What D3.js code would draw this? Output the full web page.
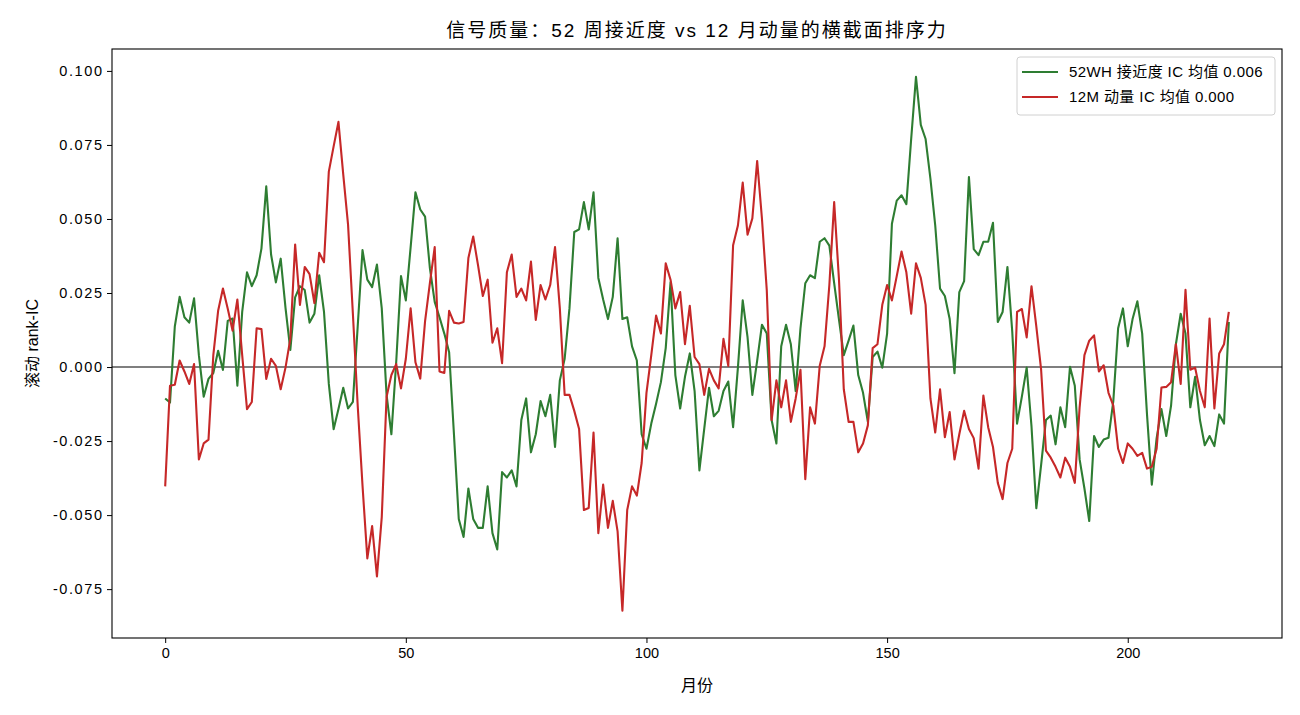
<!DOCTYPE html>
<html>
<head>
<meta charset="utf-8">
<script src="https://cdn.jsdelivr.net/npm/d3@7"></script>
<style>
  body { margin: 0; background: #fff; }
  svg text { font-family: "Liberation Sans", Arial, "Noto Sans CJK SC", sans-serif; fill: #000; }
</style>
</head>
<body>
<div id="canvas"></div>
<script>
const w = 1300;
const h = 715;
const margin = { top: 49, bottom: 77, left: 112, right: 18 };

// rolling rank-IC, one value per month (0..221)
const ic52wh = [
  -0.0106, -0.012, 0.0137, 0.0237, 0.0168, 0.015, 0.0232, 0.004, -0.010, -0.004,
  -0.002, 0.0055, -0.001, 0.0156, 0.0164, -0.0063, 0.0186, 0.032, 0.0273, 0.031,
  0.040, 0.061, 0.038, 0.0286, 0.0366, 0.02, 0.0058, 0.0235, 0.0273, 0.026,
  0.015, 0.018, 0.031, 0.0186, -0.0057, -0.021, -0.0142, -0.007, -0.014, -0.0118,
  0.0137, 0.0395, 0.0295, 0.027, 0.0346, 0.0198, -0.0094, -0.0227, 0.0016, 0.0307,
  0.0225, 0.0405, 0.059, 0.0532, 0.0508, 0.0334, 0.022, 0.0168, 0.0113, 0.005,
  -0.0227, -0.0513, -0.0574, -0.041, -0.0513, -0.0543, -0.0543, -0.0403, -0.0561, -0.0616,
  -0.0355, -0.0373, -0.0349, -0.0403, -0.0179, -0.0106, -0.0288, -0.0227, -0.0115, -0.0166,
  -0.0094, -0.027, -0.0045, 0.0028, 0.0198, 0.0456, 0.0465, 0.0557, 0.0465, 0.059,
  0.0301, 0.0228, 0.0162, 0.0237, 0.0435, 0.0162, 0.0168, 0.007, 0.0022, -0.0227,
  -0.0276, -0.0191, -0.0124, -0.0051, 0.0064, 0.0286, -0.0027, -0.014, -0.0033, 0.0046,
  -0.0081, -0.0349, -0.0209, -0.007, -0.0166, -0.0148, -0.0081, -0.0049, -0.0203, -0.0002,
  0.0225, 0.0101, -0.0094, 0.0022, 0.0143, 0.0113, -0.0179, -0.0258, 0.007, 0.0143,
  0.0077, -0.0081, 0.0131, 0.0283, 0.031, 0.030, 0.0423, 0.0435, 0.041, 0.0283,
  0.016, 0.004, 0.0089, 0.014, -0.0027, -0.0087, -0.0185, 0.0034, 0.0052, -0.0002,
  0.0113, 0.0484, 0.0562, 0.058, 0.055, 0.077, 0.098, 0.0818, 0.077, 0.0636,
  0.0478, 0.0265, 0.024, 0.0162, -0.0021, 0.0253, 0.029, 0.0642, 0.0398, 0.0378,
  0.0423, 0.0423, 0.0487, 0.0152, 0.0186, 0.0338, 0.012, -0.0191, -0.01, -0.0002,
  -0.02, -0.0477, -0.033, -0.0179, -0.0164, -0.0261, -0.0136, -0.0203, 0.0001, -0.0063,
  -0.0312, -0.041, -0.052, -0.0233, -0.027, -0.0245, -0.0239, -0.0115, 0.0131, 0.0198,
  0.007, 0.0162, 0.0222, 0.0113, -0.016, -0.0397, -0.024, -0.0142, -0.0233, -0.013,
  0.0077, 0.018, 0.0113, -0.0136, -0.0033, -0.0179, -0.0264, -0.0233, -0.0267, -0.016,
  -0.0191, 0.0152
];

const ic12m = [
  -0.0403, -0.0063, -0.006, 0.0022, -0.0015, -0.0057, 0.001, -0.0312, -0.0258, -0.0245,
  0.004, 0.019, 0.0265, 0.0197, 0.0123, 0.0228, 0.004, -0.0142, -0.0118, 0.0131,
  0.0128, -0.004, 0.0028, 0.0004, -0.0075, -0.0002, 0.0095, 0.0414, 0.021, 0.0338,
  0.0314, 0.0216, 0.0386, 0.0354, 0.066, 0.0745, 0.0828, 0.065, 0.048, 0.018,
  -0.013, -0.040, -0.0646, -0.0537, -0.0707, -0.0507, -0.01, -0.0027, 0.001, -0.0072,
  0.0028, 0.0198, 0.0016, -0.0039, 0.0155, 0.0283, 0.0405, -0.0015, -0.002, 0.019,
  0.015, 0.0147, 0.0152, 0.0368, 0.0441, 0.0344, 0.024, 0.0295, 0.0082, 0.0131,
  0.0013, 0.032, 0.038, 0.0237, 0.0265, 0.0225, 0.0356, 0.0159, 0.0277, 0.0228,
  0.0277, 0.0405, 0.0198, -0.0094, -0.0094, -0.0148, -0.0209, -0.0483, -0.0476, -0.0221,
  -0.0561, -0.0397, -0.0543, -0.0452, -0.0555, -0.0823, -0.0483, -0.0403, -0.0434, -0.0324,
  -0.0087, 0.004, 0.0174, 0.0113, 0.035, 0.0295, 0.0198, 0.0253, 0.0077, 0.0207,
  0.0034, 0.001, -0.0094, -0.0006, -0.0045, -0.0072, 0.0095, 0.0004, 0.0411, 0.0478,
  0.0623, 0.0447, 0.0502, 0.0696, 0.05, 0.0259, -0.0179, -0.0045, -0.0136, -0.0045,
  -0.0185, -0.0106, -0.0009, -0.0379, -0.0136, -0.0191, 0.0004, 0.007, 0.0277, 0.0557,
  0.0295, -0.0075, -0.0185, -0.0185, -0.0288, -0.0258, -0.0197, 0.0064, 0.0077, 0.021,
  0.0277, 0.0225, 0.0307, 0.039, 0.032, 0.018, 0.035, 0.0301, 0.021, -0.0106,
  -0.0221, -0.0075, -0.0237, -0.0152, -0.0312, -0.0227, -0.0148, -0.0209, -0.024, -0.0343,
  -0.0096, -0.0203, -0.027, -0.0391, -0.0446, -0.0324, -0.0276, 0.0186, 0.0196, 0.01,
  0.0273, 0.0137, -0.0009, -0.0282, -0.0306, -0.0337, -0.0373, -0.0306, -0.0337, -0.0391,
  -0.0136, 0.004, 0.0089, 0.0107, -0.0015, 0.0006, -0.0087, -0.013, -0.0276, -0.0324,
  -0.0258, -0.0276, -0.030, -0.029, -0.0343, -0.0337, -0.0276, -0.0069, -0.0067, -0.0051,
  0.0077, -0.0057, 0.0261, -0.0009, -0.0002, -0.0081, -0.0136, 0.0164, -0.014, 0.0046,
  0.0077, 0.0186
];

const seriesNames = ["52WH 接近度 IC 均值 0.006", "12M 动量 IC 均值 0.000"];
const seriesColors = ["#2e7d32", "#c62828"];
const xTicks = [0, 50, 100, 150, 200];
const yTicks = [-0.075, -0.05, -0.025, 0, 0.025, 0.05, 0.075, 0.1];

const width = w - margin.left - margin.right;
const height = h - margin.top - margin.bottom;

let svg = d3.select("#canvas")
  .append("svg")
  .attr("width", w)
  .attr("height", h);

let x = d3.scaleLinear().domain([-11.05, 232.05]).range([0, width]);
let y = d3.scaleLinear().domain([-0.0915, 0.1074]).range([height, 0]);

let chart = svg.append("g")
  .attr("transform", "translate(" + margin.left + "," + margin.top + ")");

// axes
let xAxis = chart.append("g")
  .attr("transform", "translate(0," + height + ")")
  .call(d3.axisBottom(x).tickValues(xTicks).tickSize(5).tickPadding(5).tickFormat(d3.format("d")));
let yAxis = chart.append("g")
  .call(d3.axisLeft(y).tickValues(yTicks).tickSize(5).tickPadding(5).tickFormat(d => d3.format(".3f")(d).replace("−", "-")));

[xAxis, yAxis].forEach(a => {
  a.select(".domain").remove();
  a.selectAll("line").attr("stroke", "#000").attr("stroke-width", 1);
  a.selectAll("text").style("font-size", "14.5px").attr("fill", "#000");
});
yAxis.selectAll("text").style("letter-spacing", "1.6px").attr("dx", "1.6px");

// zero line
chart.append("line")
  .attr("x1", 0).attr("x2", width)
  .attr("y1", y(0)).attr("y2", y(0))
  .attr("stroke", "#000").attr("stroke-width", 1.1);

let line = d3.line()
  .x((d, i) => x(i))
  .y(d => y(d));

[ic52wh, ic12m].forEach((s, k) => {
  chart.append("path")
    .datum(s)
    .attr("d", line)
    .attr("fill", "none")
    .attr("stroke", seriesColors[k])
    .attr("stroke-width", 2.1)
    .attr("stroke-linejoin", "round");
});

// frame
chart.append("rect")
  .attr("width", width).attr("height", height)
  .attr("fill", "none").attr("stroke", "#000").attr("stroke-width", 1.1);

// title and labels
svg.append("text")
  .attr("x", margin.left + width / 2).attr("y", 37)
  .attr("text-anchor", "middle")
  .style("font-size", "19px")
  .style("letter-spacing", "2px")
  .text("信号质量：52 周接近度 vs 12 月动量的横截面排序力");

svg.append("text")
  .attr("x", margin.left + width / 2).attr("y", 691)
  .attr("text-anchor", "middle")
  .style("font-size", "16px")
  .text("月份");

svg.append("text")
  .attr("transform", "translate(38," + (margin.top + height / 2) + ") rotate(-90)")
  .attr("text-anchor", "middle")
  .style("font-size", "16px")
  .text("滚动 rank-IC");

// legend
let legend = chart.append("g")
  .attr("transform", "translate(" + (width - 265) + ",8)");
legend.append("rect")
  .attr("width", 258).attr("height", 58)
  .attr("rx", 3)
  .attr("fill", "#fff").attr("fill-opacity", 0.8)
  .attr("stroke", "#d0d0d0").attr("stroke-width", 1);
seriesNames.forEach((name, k) => {
  let gy = 15 + k * 25;
  legend.append("line")
    .attr("x1", 5).attr("x2", 41)
    .attr("y1", gy).attr("y2", gy)
    .attr("stroke", seriesColors[k]).attr("stroke-width", 2.1);
  legend.append("text")
    .attr("x", 52).attr("y", gy + 5)
    .style("font-size", "15px")
    .style("letter-spacing", "0.4px")
    .text(name);
});
</script>
</body>
</html>
